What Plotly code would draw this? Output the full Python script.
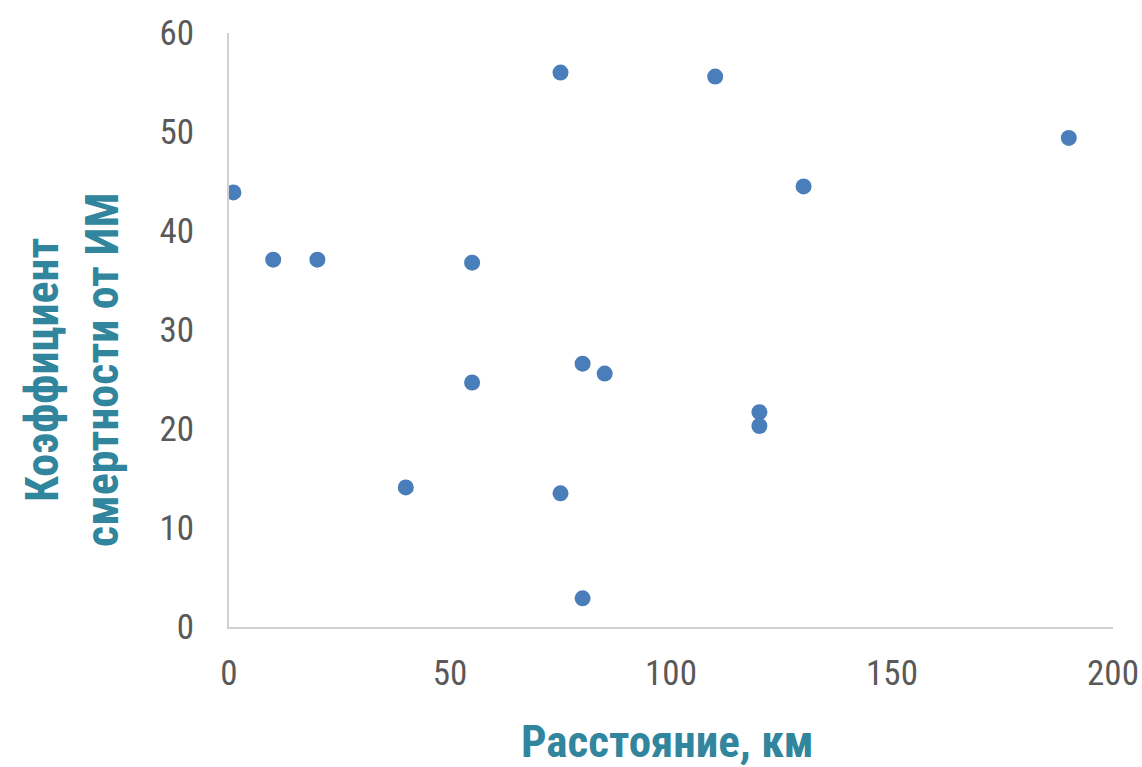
import plotly.graph_objects as go

distance_km = [1, 10, 20, 40, 55, 55, 75, 75, 80, 80, 85, 110, 120, 120, 130, 190]
mortality = [43.9, 37.1, 37.1, 14.1, 36.8, 24.7, 56.0, 13.5, 26.6, 2.9, 25.6, 55.6, 21.7, 20.3, 44.5, 49.4]

x_title = "Расстояние, км"
y_title = "Коэффициент<br>смертности от ИМ"

FONT = "Liberation Sans Narrow, Arial Narrow, Roboto Condensed, Liberation Sans, sans-serif"
TEAL = "#31859C"

fig = go.Figure(go.Scatter(
    x=distance_km, y=mortality, mode="markers",
    marker=dict(color="#4A7EBB", size=16, line=dict(width=0)),
    hoverinfo="x+y",
))

fig.update_layout(
    width=1142, height=767,
    margin=dict(l=229, r=29, t=33, b=140, autoexpand=False),
    paper_bgcolor="white", plot_bgcolor="white",
    showlegend=False,
    font=dict(family=FONT, color="#595959", size=34),
    xaxis=dict(range=[0, 200], tickvals=[0, 50, 100, 150, 200], showgrid=False,
               zeroline=False, showline=True, linecolor="#D0D0D0", linewidth=2,
               ticks="", ticklabelstandoff=14, automargin=False,
               tickfont=dict(size=35, color="#595959")),
    yaxis=dict(range=[0, 60], tickvals=[0, 10, 20, 30, 40, 50, 60], showgrid=False,
               zeroline=False, showline=True, linecolor="#D0D0D0", linewidth=2,
               ticks="", ticklabelstandoff=26, automargin=False,
               tickfont=dict(size=35, color="#595959")),
    annotations=[
        dict(text="<b>" + x_title + "</b>", xref="paper", yref="paper",
             x=0.4955, y=-0.193, xanchor="center", yanchor="middle",
             showarrow=False, font=dict(family=FONT, size=45, color=TEAL)),
        dict(text="<b>" + y_title + "</b>", xref="paper", yref="paper",
             x=-0.1776, y=0.4327, xanchor="center", yanchor="middle", textangle=-90,
             showarrow=False, font=dict(family=FONT, size=46, color=TEAL)),
    ],
)

fig.write_html("out.html", config={"displayModeBar": False},
               post_script="document.body.style.margin='0';document.body.style.overflow='hidden';")
